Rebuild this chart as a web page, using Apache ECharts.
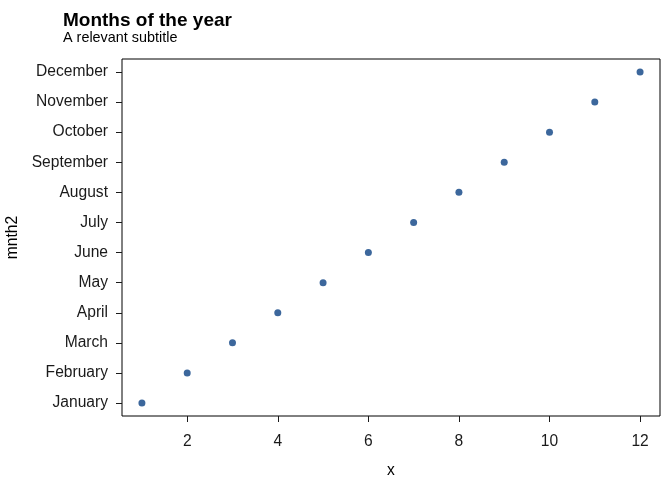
<!DOCTYPE html>
<html>
<head>
<meta charset="utf-8">
<script src="https://cdn.jsdelivr.net/npm/echarts@6/dist/echarts.min.js"></script>
<style>
html,body{margin:0;padding:0;background:#fff;}
#chart{width:672px;height:480px;}
</style>
</head>
<body>
<div id="chart"></div>
<script>
var months = ['January','February','March','April','May','June','July','August','September','October','November','December'];
var xValues = [1,2,3,4,5,6,7,8,9,10,11,12];
var xTicks = [2,4,6,8,10,12];
var yTicks = [1,2,3,4,5,6,7,8,9,10,11,12];

var points = xValues.map(function(x, i){ return [x, i + 1]; });

var font = 'Liberation Sans, Arial, Helvetica, sans-serif';
var chart = echarts.init(document.getElementById('chart'));
chart.setOption({
  animation: false,
  backgroundColor: '#ffffff',
  title: [
    {text: 'Months of the year', left: 63, top: 11, padding: 0,
     textStyle: {fontFamily: font, fontSize: 19, fontWeight: 'bold', color: '#000'}},
    {text: 'A relevant subtitle', left: 63, top: 31.5, padding: 0,
     textStyle: {fontFamily: font, fontSize: 14.4, fontWeight: 'normal', color: '#000'}}
  ],
  grid: {left: 122, right: 12, top: 59, bottom: 64, outerBoundsMode: 'none', containLabel: false,
         show: true, borderColor: '#000', borderWidth: 1, backgroundColor: 'transparent'},
  xAxis: {
    type: 'value', min: 0.56, max: 12.44,
    name: 'x', nameLocation: 'middle', nameGap: 47,
    nameTextStyle: {fontFamily: font, fontSize: 15.6, color: '#000'},
    axisLine: {show: false},
    splitLine: {show: false},
    axisTick: {show: true, length: 6, lineStyle: {color: '#1a1a1a', width: 1}, customValues: xTicks},
    axisLabel: {fontFamily: font, fontSize: 15.6, color: '#1a1a1a', margin: 18, customValues: xTicks}
  },
  yAxis: {
    type: 'value', min: 0.57, max: 12.43,
    name: 'mnth2', nameLocation: 'middle', nameGap: 98,
    nameTextStyle: {fontFamily: font, fontSize: 15.6, color: '#000'},
    axisLine: {show: false},
    splitLine: {show: false},
    axisTick: {show: true, length: 6, lineStyle: {color: '#1a1a1a', width: 1}, customValues: yTicks},
    axisLabel: {fontFamily: font, fontSize: 15.6, color: '#1a1a1a', margin: 14, customValues: yTicks,
      formatter: function(v){ return months[Math.round(v) - 1] || ''; }}
  },
  series: [{
    type: 'scatter',
    data: points,
    symbol: 'circle',
    symbolSize: 7,
    itemStyle: {color: '#3C679C', opacity: 1}
  }]
});
</script>
</body>
</html>
